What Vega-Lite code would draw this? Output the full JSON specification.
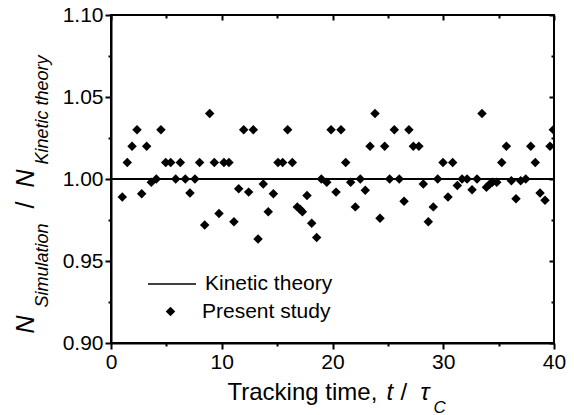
{
  "$schema": "https://vega.github.io/schema/vega-lite/v6.json",
  "width": 443,
  "height": 328,
  "autosize": {"type": "none"},
  "padding": {"left": 111, "top": 15, "right": 20, "bottom": 72},
  "background": "white",
  "data": {"values": [
    {"t": 1.02, "r": 0.989, "series": "Present study"},
    {"t": 1.47, "r": 1.01, "series": "Present study"},
    {"t": 1.90, "r": 1.02, "series": "Present study"},
    {"t": 2.35, "r": 1.03, "series": "Present study"},
    {"t": 2.77, "r": 0.991, "series": "Present study"},
    {"t": 3.22, "r": 1.02, "series": "Present study"},
    {"t": 3.64, "r": 0.998, "series": "Present study"},
    {"t": 4.09, "r": 1.0, "series": "Present study"},
    {"t": 4.51, "r": 1.03, "series": "Present study"},
    {"t": 4.94, "r": 1.01, "series": "Present study"},
    {"t": 5.39, "r": 1.01, "series": "Present study"},
    {"t": 5.84, "r": 1.0, "series": "Present study"},
    {"t": 6.26, "r": 1.01, "series": "Present study"},
    {"t": 6.71, "r": 1.0, "series": "Present study"},
    {"t": 7.13, "r": 0.9915, "series": "Present study"},
    {"t": 7.58, "r": 1.0, "series": "Present study"},
    {"t": 8.0, "r": 1.01, "series": "Present study"},
    {"t": 8.46, "r": 0.972, "series": "Present study"},
    {"t": 8.91, "r": 1.04, "series": "Present study"},
    {"t": 9.33, "r": 1.01, "series": "Present study"},
    {"t": 9.75, "r": 0.979, "series": "Present study"},
    {"t": 10.2, "r": 1.01, "series": "Present study"},
    {"t": 10.65, "r": 1.01, "series": "Present study"},
    {"t": 11.1, "r": 0.974, "series": "Present study"},
    {"t": 11.53, "r": 0.994, "series": "Present study"},
    {"t": 11.98, "r": 1.03, "series": "Present study"},
    {"t": 12.43, "r": 0.992, "series": "Present study"},
    {"t": 12.85, "r": 1.03, "series": "Present study"},
    {"t": 13.28, "r": 0.9634, "series": "Present study"},
    {"t": 13.75, "r": 0.997, "series": "Present study"},
    {"t": 14.2, "r": 0.98, "series": "Present study"},
    {"t": 14.66, "r": 0.991, "series": "Present study"},
    {"t": 15.08, "r": 1.01, "series": "Present study"},
    {"t": 15.5, "r": 1.01, "series": "Present study"},
    {"t": 15.95, "r": 1.03, "series": "Present study"},
    {"t": 16.37, "r": 1.01, "series": "Present study"},
    {"t": 16.82, "r": 0.983, "series": "Present study"},
    {"t": 17.07, "r": 0.9815, "series": "Present study"},
    {"t": 17.28, "r": 0.98, "series": "Present study"},
    {"t": 17.7, "r": 0.99, "series": "Present study"},
    {"t": 18.12, "r": 0.973, "series": "Present study"},
    {"t": 18.57, "r": 0.9644, "series": "Present study"},
    {"t": 18.99, "r": 1.0, "series": "Present study"},
    {"t": 19.48, "r": 0.998, "series": "Present study"},
    {"t": 19.87, "r": 1.03, "series": "Present study"},
    {"t": 20.32, "r": 0.992, "series": "Present study"},
    {"t": 20.77, "r": 1.03, "series": "Present study"},
    {"t": 21.19, "r": 1.01, "series": "Present study"},
    {"t": 21.64, "r": 0.998, "series": "Present study"},
    {"t": 22.06, "r": 0.983, "series": "Present study"},
    {"t": 22.51, "r": 1.0, "series": "Present study"},
    {"t": 22.96, "r": 0.9932, "series": "Present study"},
    {"t": 23.39, "r": 1.02, "series": "Present study"},
    {"t": 23.84, "r": 1.04, "series": "Present study"},
    {"t": 24.29, "r": 0.976, "series": "Present study"},
    {"t": 24.71, "r": 1.02, "series": "Present study"},
    {"t": 25.16, "r": 1.0, "series": "Present study"},
    {"t": 25.58, "r": 1.03, "series": "Present study"},
    {"t": 26.03, "r": 1.0, "series": "Present study"},
    {"t": 26.46, "r": 0.9864, "series": "Present study"},
    {"t": 26.9, "r": 1.03, "series": "Present study"},
    {"t": 27.3, "r": 1.02, "series": "Present study"},
    {"t": 27.8, "r": 1.02, "series": "Present study"},
    {"t": 28.2, "r": 0.997, "series": "Present study"},
    {"t": 28.65, "r": 0.974, "series": "Present study"},
    {"t": 29.1, "r": 0.983, "series": "Present study"},
    {"t": 29.5, "r": 1.0, "series": "Present study"},
    {"t": 29.98, "r": 1.01, "series": "Present study"},
    {"t": 30.43, "r": 0.989, "series": "Present study"},
    {"t": 30.85, "r": 1.01, "series": "Present study"},
    {"t": 31.27, "r": 0.996, "series": "Present study"},
    {"t": 31.7, "r": 1.0, "series": "Present study"},
    {"t": 32.15, "r": 1.0, "series": "Present study"},
    {"t": 32.6, "r": 0.9934, "series": "Present study"},
    {"t": 33.05, "r": 1.0, "series": "Present study"},
    {"t": 33.5, "r": 1.04, "series": "Present study"},
    {"t": 33.9, "r": 0.995, "series": "Present study"},
    {"t": 34.16, "r": 0.9966, "series": "Present study"},
    {"t": 34.43, "r": 0.998, "series": "Present study"},
    {"t": 34.83, "r": 0.998, "series": "Present study"},
    {"t": 35.28, "r": 1.01, "series": "Present study"},
    {"t": 35.7, "r": 1.02, "series": "Present study"},
    {"t": 36.15, "r": 0.999, "series": "Present study"},
    {"t": 36.57, "r": 0.988, "series": "Present study"},
    {"t": 36.99, "r": 0.999, "series": "Present study"},
    {"t": 37.45, "r": 1.0, "series": "Present study"},
    {"t": 37.9, "r": 1.02, "series": "Present study"},
    {"t": 38.31, "r": 1.01, "series": "Present study"},
    {"t": 38.74, "r": 0.9915, "series": "Present study"},
    {"t": 39.19, "r": 0.987, "series": "Present study"},
    {"t": 39.64, "r": 1.02, "series": "Present study"},
    {"t": 39.94, "r": 1.03, "series": "Present study"}
  ]},
  "layer": [
    {
      "mark": {"type": "rule", "strokeWidth": 1.5},
      "encoding": {
        "y": {"datum": 1, "type": "quantitative", "scale": {"domain": [0.9, 1.1], "nice": false, "zero": false}, "axis": null},
        "color": {"datum": "Kinetic theory", "type": "nominal", "scale": {"domain": ["Kinetic theory"], "range": ["black"]},
          "legend": {"orient": "none", "legendX": 36, "legendY": 244, "title": null, "padding": 0,
            "labelFontSize": 21, "labelOffset": 8, "symbolType": "stroke", "symbolSize": 2304, "symbolStrokeWidth": 1.5,
            "symbolStrokeColor": "black"}}
      }
    },
    {
      "mark": {"type": "point", "filled": true, "color": "black", "opacity": 1, "clip": true, "size": 90},
      "encoding": {
        "x": {"field": "t", "type": "quantitative", "scale": {"domain": [0, 40], "nice": false, "zero": false},
          "axis": {"orient": "bottom", "values": [0, 10, 20, 30, 40], "ticks": true, "tickColor": "black", "tickOpacity": 1,
            "domain": true, "domainColor": "black", "domainWidth": 2,
            "tickSize": 6, "tickWidth": 2, "labelPadding": 2, "labelFontSize": 21, "labelFlush": false, "labelOverlap": false,
            "title": "Tracking time,", "titleX": 116, "titleY": 56, "titleAlign": "left", "titleBaseline": "alphabetic",
            "titleAngle": 0, "titleFontSize": 24, "titleFontWeight": "normal"}},
        "y": {"field": "r", "type": "quantitative", "scale": {"domain": [0.9, 1.1], "nice": false, "zero": false},
          "axis": {"orient": "left", "values": [0.9, 0.95, 1.0, 1.05, 1.1], "format": ".2f", "ticks": true, "tickColor": "black", "tickOpacity": 1,
            "domain": true, "domainColor": "black", "domainWidth": 2,
            "tickSize": 6, "tickWidth": 2, "labelPadding": 2, "labelFontSize": 21, "labelFlush": false, "labelOverlap": false,
            "title": "N", "titleX": -78, "titleY": 318, "titleAlign": "left", "titleBaseline": "alphabetic",
            "titleAngle": 270, "titleFontSize": 25, "titleFontStyle": "italic", "titleFontWeight": "normal"}},
        "shape": {"field": "series", "type": "nominal",
          "scale": {"domain": ["Present study"], "range": ["diamond"]},
          "legend": {"orient": "none", "legendX": 49, "legendY": 286, "title": null, "padding": 0,
            "labelFontSize": 21, "labelOffset": 21, "symbolSize": 90, "symbolFillColor": "black", "symbolStrokeWidth": 0}}
      }
    },
    {
      "mark": {"type": "point", "opacity": 0},
      "encoding": {
        "x": {"field": "t", "type": "quantitative", "scale": {"domain": [0, 40], "nice": false, "zero": false},
          "axis": {"orient": "bottom", "labels": false, "ticks": true, "tickColor": "black", "tickOpacity": 1, "tickSize": 3, "tickWidth": 2, "values": [5, 15, 25, 35],
            "title": "t", "titleX": 275, "titleY": 56,
            "titleAlign": "left", "titleBaseline": "alphabetic", "titleAngle": 0, "titleFontSize": 24, "titleFontStyle": "italic", "titleFontWeight": "normal"}},
        "y": {"field": "r", "type": "quantitative", "scale": {"domain": [0.9, 1.1], "nice": false, "zero": false},
          "axis": {"orient": "left", "labels": false, "ticks": true, "tickColor": "black", "tickOpacity": 1, "tickSize": 3, "tickWidth": 2, "values": [0.925, 0.975, 1.025, 1.075],
            "title": "Simulation", "titleX": -64, "titleY": 292,
            "titleAlign": "left", "titleBaseline": "alphabetic", "titleAngle": 270, "titleFontSize": 18, "titleFontStyle": "italic", "titleFontWeight": "normal"}}
      }
    },
    {
      "mark": {"type": "point", "opacity": 0},
      "encoding": {
        "x": {"field": "t", "type": "quantitative", "scale": {"domain": [0, 40], "nice": false, "zero": false},
          "axis": {"orient": "top", "labels": false, "ticks": true, "tickColor": "black", "tickOpacity": 1, "tickSize": -5, "tickWidth": 2, "values": [0, 10, 20, 30, 40],
            "title": "/", "titleX": 289, "titleY": 384,
            "titleAlign": "left", "titleBaseline": "alphabetic", "titleAngle": 0, "titleFontSize": 24, "titleFontWeight": "normal"}},
        "y": {"field": "r", "type": "quantitative", "scale": {"domain": [0.9, 1.1], "nice": false, "zero": false},
          "axis": {"orient": "right", "labels": false, "ticks": true, "tickColor": "black", "tickOpacity": 1, "tickSize": -5, "tickWidth": 2, "values": [0.9, 0.95, 1.0, 1.05, 1.1],
            "title": "/", "titleX": -521, "titleY": 193,
            "titleAlign": "left", "titleBaseline": "alphabetic", "titleAngle": 270, "titleFontSize": 25, "titleFontWeight": "normal"}}
      }
    },
    {
      "mark": {"type": "point", "opacity": 0},
      "encoding": {
        "x": {"field": "t", "type": "quantitative", "scale": {"domain": [0, 40], "nice": false, "zero": false},
          "axis": {"orient": "top", "labels": false, "ticks": true, "tickColor": "black", "tickOpacity": 1, "tickSize": -3, "tickWidth": 2, "values": [5, 15, 25, 35],
            "title": "τ", "titleX": 309, "titleY": 384,
            "titleAlign": "left", "titleBaseline": "alphabetic", "titleAngle": 0, "titleFontSize": 24, "titleFontStyle": "italic", "titleFontWeight": "normal"}},
        "y": {"field": "r", "type": "quantitative", "scale": {"domain": [0.9, 1.1], "nice": false, "zero": false},
          "axis": {"orient": "right", "labels": false, "ticks": true, "tickColor": "black", "tickOpacity": 1, "tickSize": -3, "tickWidth": 2, "values": [0.925, 0.975, 1.025, 1.075],
            "title": "N", "titleX": -521, "titleY": 172,
            "titleAlign": "left", "titleBaseline": "alphabetic", "titleAngle": 270, "titleFontSize": 25, "titleFontStyle": "italic", "titleFontWeight": "normal"}}
      }
    },
    {
      "mark": {"type": "point", "opacity": 0},
      "encoding": {
        "x": {"field": "t", "type": "quantitative", "scale": {"domain": [0, 40], "nice": false, "zero": false},
          "axis": {"orient": "bottom", "labels": false, "ticks": false, "title": "C", "titleX": 322, "titleY": 69,
            "titleAlign": "left", "titleBaseline": "alphabetic", "titleAngle": 0, "titleFontSize": 17, "titleFontStyle": "italic", "titleFontWeight": "normal"}},
        "y": {"field": "r", "type": "quantitative", "scale": {"domain": [0.9, 1.1], "nice": false, "zero": false},
          "axis": {"orient": "left", "labels": false, "ticks": false, "title": "Kinetic theory", "titleX": -64, "titleY": 149,
            "titleAlign": "left", "titleBaseline": "alphabetic", "titleAngle": 270, "titleFontSize": 18, "titleFontStyle": "italic", "titleFontWeight": "normal"}}
      }
    }
  ],
  "resolve": {"axis": {"x": "independent", "y": "independent"}},
  "config": {
    "font": "Liberation Sans",
    "view": {"stroke": "black", "strokeWidth": 2},
    "axis": {"grid": false, "domain": false, "labelFont": "Liberation Sans", "titleFont": "Liberation Sans",
      "labelColor": "black", "titleColor": "black", "tickColor": "black", "zindex": 2},
    "legend": {"labelFont": "Liberation Sans", "labelColor": "black"}
  }
}
